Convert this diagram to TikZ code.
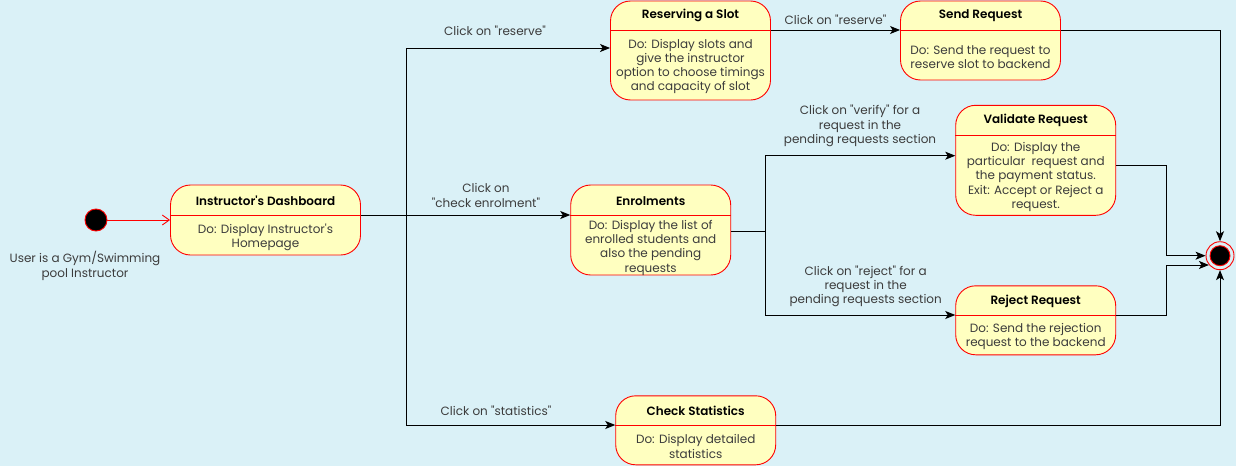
\documentclass[tikz,border=0pt]{standalone}
\usepackage{fontspec}
\setmainfont{Poppins}[Ligatures=TeXOff, BoldFont={Poppins SemiBold}]
\usetikzlibrary{arrows.meta,positioning}

\definecolor{bgblue}{HTML}{DAF1F7}
\definecolor{stfill}{HTML}{FFFFC0}
\definecolor{txtgrey}{HTML}{3C3C3C}

\tikzset{
  state/.style={draw=red, fill=stfill, rounded corners=20pt, inner sep=0pt, line width=0.9pt},
  headline/.style={red, line width=0.9pt},
  stitle/.style={font=\fontsize{12}{14.3}\selectfont\bfseries, text=black, inner sep=0pt},
  sbody/.style={font=\fontsize{12}{14.3}\selectfont, text=txtgrey, align=center, inner sep=0pt, yshift=-1.5pt},
  lbl/.style={font=\fontsize{12}{14.3}\selectfont, text=txtgrey, align=center, inner sep=0pt, yshift=-1pt},
  flow/.style={-{Stealth[length=10pt,width=8pt,inset=2.5pt]}, black, line width=0.9pt},
  initflow/.style={-{Straight Barb[length=7pt,width=10pt]}, red, line width=0.9pt},
  startdot/.style={circle, draw=red, fill=black, minimum size=22pt, inner sep=0pt, line width=0.9pt},
}

\begin{document}
\begin{tikzpicture}[x=1pt,y=-1pt]
  \fill[bgblue] (0,0) rectangle (1236,466);
  \useasboundingbox (0,0) rectangle (1236,466);

  % start
  \node[startdot] (init) at (96,220) {};
  \node[lbl] (initlbl) at (85,265) {User is a Gym/Swimming\\pool Instructor};

  % instructor's dashboard
  \node[state, minimum width=190pt, minimum height=70pt] (dash) at (265.5,220) {};
  \coordinate (dash-h) at (265.5,215);
  \draw[headline] (dash.west |- dash-h) -- (dash.east |- dash-h);
  \node[stitle] (dash-t) at (265.5,201) {Instructor's Dashboard};
  \node[sbody] (dash-b) at (265.5,235.5) {Do: Display Instructor's\\Homepage};

  % reserving a slot
  \node[state, minimum width=160pt, minimum height=99pt] (resv) at (690.5,50.5) {};
  \coordinate (resv-h) at (690.5,30);
  \draw[headline] (resv.west |- resv-h) -- (resv.east |- resv-h);
  \node[stitle] (resv-t) at (690.5,15.5) {Reserving a Slot};
  \node[sbody] (resv-b) at (690.5,65) {Do: Display slots and\\give the instructor\\option to choose timings\\and capacity of slot};

  % send request
  \node[state, minimum width=160pt, minimum height=79pt] (send) at (980.5,40.5) {};
  \coordinate (send-h) at (980.5,30);
  \draw[headline] (send.west |- send-h) -- (send.east |- send-h);
  \node[stitle] (send-t) at (980.5,15.5) {Send Request};
  \node[sbody] (send-b) at (980.5,55.3) {Do: Send the request to\\reserve slot to backend};

  % enrolments
  \node[state, minimum width=160pt, minimum height=90pt] (enrol) at (650.7,230) {};
  \coordinate (enrol-h) at (650.7,215);
  \draw[headline] (enrol.west |- enrol-h) -- (enrol.east |- enrol-h);
  \node[stitle] (enrol-t) at (650.7,200.7) {Enrolments};
  \node[sbody] (enrol-b) at (650.7,246.3) {Do: Display the list of\\enrolled students and\\also the pending\\requests};

  % validate request
  \node[state, minimum width=160pt, minimum height=110pt] (valid) at (1035.7,160.3) {};
  \coordinate (valid-h) at (1035.7,135);
  \draw[headline] (valid.west |- valid-h) -- (valid.east |- valid-h);
  \node[stitle] (valid-t) at (1035.7,120.7) {Validate Request};
  \node[sbody] (valid-b) at (1035.7,175.3) {Do: Display the\\particular\ \ request and\\the payment status.\\Exit: Accept or Reject a\\request.};

  % reject request
  \node[state, minimum width=160pt, minimum height=69pt] (rej) at (1035.7,320.3) {};
  \coordinate (rej-h) at (1035.7,315);
  \draw[headline] (rej.west |- rej-h) -- (rej.east |- rej-h);
  \node[stitle] (rej-t) at (1035.7,301) {Reject Request};
  \node[sbody] (rej-b) at (1035.7,335.3) {Do: Send the rejection\\request to the backend};

  % check statistics
  \node[state, minimum width=160pt, minimum height=69pt] (stats) at (695.7,430.3) {};
  \coordinate (stats-h) at (695.7,425);
  \draw[headline] (stats.west |- stats-h) -- (stats.east |- stats-h);
  \node[stitle] (stats-t) at (695.7,410.7) {Check Statistics};
  \node[sbody] (stats-b) at (695.7,445) {Do: Display detailed\\statistics};

  % final state
  \node[circle, draw=red, fill=bgblue, minimum size=28pt, inner sep=0pt, line width=0.9pt] (final) at (1220,255.7) {};
  \node[startdot, minimum size=20pt] (final-dot) at (final) {};

  % branch points
  \coordinate (br1) at (406,215);
  \coordinate (br1-top) at (406,48);
  \coordinate (br2) at (765,230.7);
  \coordinate (valid-in) at (765,155.7);
  \coordinate (valid-out) at (1166,165);
  \coordinate (rej-out) at (1166,315);

  % connectors
  \draw[initflow] (init) -- (dash.west |- init);
  \draw[flow] (dash.east |- dash-h) -- (enrol.west |- enrol-h);
  \draw[flow] (br1) |- (resv.west |- br1-top);
  \draw[flow] (br1) |- (stats.west |- stats-h);
  \draw[flow] (resv.east |- resv-h) -- (send.west |- send-h);
  \draw[flow] (send.east |- send-h) -| (final.north);
  \draw (enrol.east |- br2) -- (br2);
  \draw[flow] (br2) |- (valid.west |- valid-in);
  \draw[flow] (br2) |- (rej.west |- rej-h);
  \draw[flow] (valid.east |- valid-out) -- (valid-out) |- (final.west);
  \draw[flow] (rej.east |- rej-out) -- (rej-out) |- (final.220);
  \draw[flow] (stats.east |- stats-h) -| (final.south);

  % transition labels
  \node[lbl] (l-resv) at (495,30) {Click on "reserve"};
  \node[lbl] (l-enrol) at (486,194.5) {Click on\\"check enrolment"};
  \node[lbl] (l-stats) at (496,410) {Click on "statistics"};
  \node[lbl] (l-send) at (835.5,19) {Click on "reserve"};
  \node[lbl] (l-valid) at (860,125) {Click on "verify" for a\\request in the\\pending requests section};
  \node[lbl] (l-rej) at (865.7,285.3) {Click on "reject" for a\\request in the\\pending requests section};
\end{tikzpicture}
\end{document}
